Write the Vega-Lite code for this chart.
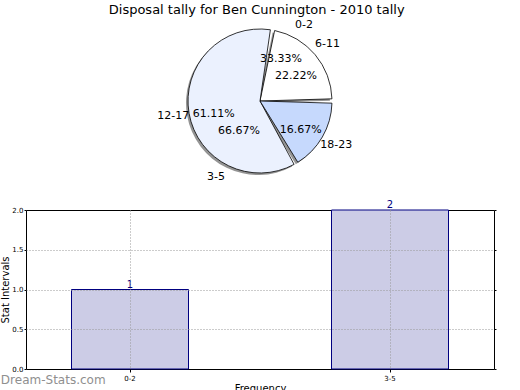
{
  "$schema": "https://vega.github.io/schema/vega-lite/v6.json",
  "padding": {"top": 3, "left": 0, "right": 0, "bottom": 0},
  "background": "white",
  "title": {"text": "Disposal tally for Ben Cunnington - 2010 tally", "font": "DejaVu Sans", "fontSize": 13, "fontWeight": "normal", "anchor": "middle", "offset": 2, "dx": 8, "color": "black"},
  "config": {"font": "DejaVu Sans", "view": {"stroke": null}},
  "datasets": {
    "pie1": [{"label": "0-2", "frac": 0.3333, "i": 0}, {"label": "3-5", "frac": 0.6667, "i": 1}],
    "pie2": [{"label": "6-11", "frac": 0.2222, "i": 0}, {"label": "12-17", "frac": 0.6111, "i": 1}, {"label": "18-23", "frac": 0.1667, "i": 2}],
    "bars": [{"interval": "0-2", "count": 1}, {"interval": "3-5", "count": 2}]
  },
  "bounds": "flush",
  "spacing": 33,
  "vconcat": [
    {
      "width": 468,
      "height": 152,
      "layer": [
        {
          "data": {"name": "pie2"},
          "mark": {"type": "arc", "radius": 72, "padAngle": 0.06, "fill": "#666666", "opacity": 0.7, "xOffset": -2, "yOffset": 2},
          "encoding": {
            "theta": {"field": "frac", "type": "quantitative", "stack": true, "scale": {"domain": [0, 1], "range": [1.5708, -4.7124]}},
            "order": {"field": "i", "type": "quantitative"}
          }
        },
        {
          "data": {"name": "pie2"},
          "mark": {"type": "arc", "radius": 72, "padAngle": 0.06, "stroke": "black", "strokeWidth": 0.8},
          "encoding": {
            "theta": {"field": "frac", "type": "quantitative", "stack": true, "scale": {"domain": [0, 1], "range": [1.5708, -4.7124]}},
            "order": {"field": "i", "type": "quantitative"},
            "color": {"field": "label", "type": "nominal", "scale": {"domain": ["6-11", "12-17", "18-23"], "range": ["#ffffff", "#ebf1fe", "#c6d9fd"]}, "legend": null}
          }
        },
        {
          "data": {"name": "pie2"},
          "mark": {"type": "text", "radius": 88, "fontSize": 11, "color": "black"},
          "encoding": {
            "theta": {"field": "frac", "type": "quantitative", "stack": true, "scale": {"domain": [0, 1], "range": [1.5708, -4.7124]}},
            "order": {"field": "i", "type": "quantitative"},
            "text": {"field": "label"}
          }
        },
        {
          "data": {"name": "pie2"},
          "mark": {"type": "text", "radius": 47, "dy": 5, "fontSize": 11, "color": "black"},
          "encoding": {
            "theta": {"field": "frac", "type": "quantitative", "stack": true, "scale": {"domain": [0, 1], "range": [1.5708, -4.7124]}},
            "order": {"field": "i", "type": "quantitative"},
            "text": {"field": "frac", "type": "quantitative", "format": ".2%"}
          }
        },
        {
          "data": {"name": "pie1"},
          "mark": {"type": "text", "radius": 88, "fontSize": 11, "color": "black"},
          "encoding": {
            "theta": {"field": "frac", "type": "quantitative", "stack": true, "scale": {"domain": [0, 1], "range": [1.5708, -4.7124]}},
            "order": {"field": "i", "type": "quantitative"},
            "text": {"field": "label"}
          }
        },
        {
          "data": {"name": "pie1"},
          "mark": {"type": "text", "radius": 42, "dy": -6, "fontSize": 11, "color": "black"},
          "encoding": {
            "theta": {"field": "frac", "type": "quantitative", "stack": true, "scale": {"domain": [0, 1], "range": [1.5708, -4.7124]}},
            "order": {"field": "i", "type": "quantitative"},
            "text": {"field": "frac", "type": "quantitative", "format": ".2%"}
          }
        }
      ]
    },
    {
      "width": 468,
      "height": 159,
      "data": {"name": "bars"},
      "view": {"stroke": "black", "strokeWidth": 1},
      "title": {"text": "Dream-Stats.com", "orient": "bottom", "anchor": "start", "frame": "bounds", "color": "#8f8f8f", "fontSize": 12, "fontWeight": "normal", "offset": -18},
      "encoding": {
        "x": {
          "field": "interval", "type": "nominal", "sort": null,
          "scale": {"paddingInner": 0.55, "paddingOuter": 0.175},
          "axis": {"title": "Frequency", "labelAngle": 0, "labelFontSize": 7, "labelColor": "black", "titleFontSize": 10, "titleFontWeight": "normal", "titleColor": "black", "titlePadding": 2, "grid": true, "gridDash": [1, 2], "gridColor": {"condition": {"test": "datum.value === '0-2' || datum.value === '3-5'", "value": "#999999"}, "value": "transparent"}, "zindex": 1, "domain": false, "tickSize": 3, "tickColor": "black", "bandPosition": 0.5, "tickExtra": false}
        },
        "y": {
          "field": "count", "type": "quantitative",
          "scale": {"domain": [0, 2]},
          "axis": {"title": "Stat Intervals", "values": [0, 0.5, 1, 1.5, 2], "format": ".1f", "labelFontSize": 7, "labelColor": "black", "labelPadding": 1, "titleFontSize": 10, "titleFontWeight": "normal", "titleColor": "black", "titlePadding": 1, "grid": true, "gridDash": [1, 2], "gridColor": {"condition": {"test": "datum.value <= 0 || datum.value >= 2", "value": "transparent"}, "value": "#999999"}, "zindex": 1, "domain": false, "tickSize": 2, "tickColor": "black"}
        }
      },
      "layer": [
        {"mark": {"type": "bar", "fill": "#cccce6", "stroke": "#000080", "strokeWidth": 1}},
        {
          "mark": {"type": "text", "baseline": "bottom", "dy": 0, "color": "#000080", "fontSize": 10},
          "encoding": {
            "text": {"field": "count", "type": "quantitative"},
            "y": {"field": "count", "type": "quantitative", "scale": {"domain": [0, 2]}, "axis": {"orient": "right", "values": [0, 0.5, 1, 1.5, 2], "labels": false, "title": null, "grid": false, "domain": false, "tickSize": 2, "tickColor": "black"}}
          }
        }
      ],
      "resolve": {"axis": {"y": "independent"}}
    }
  ]
}
